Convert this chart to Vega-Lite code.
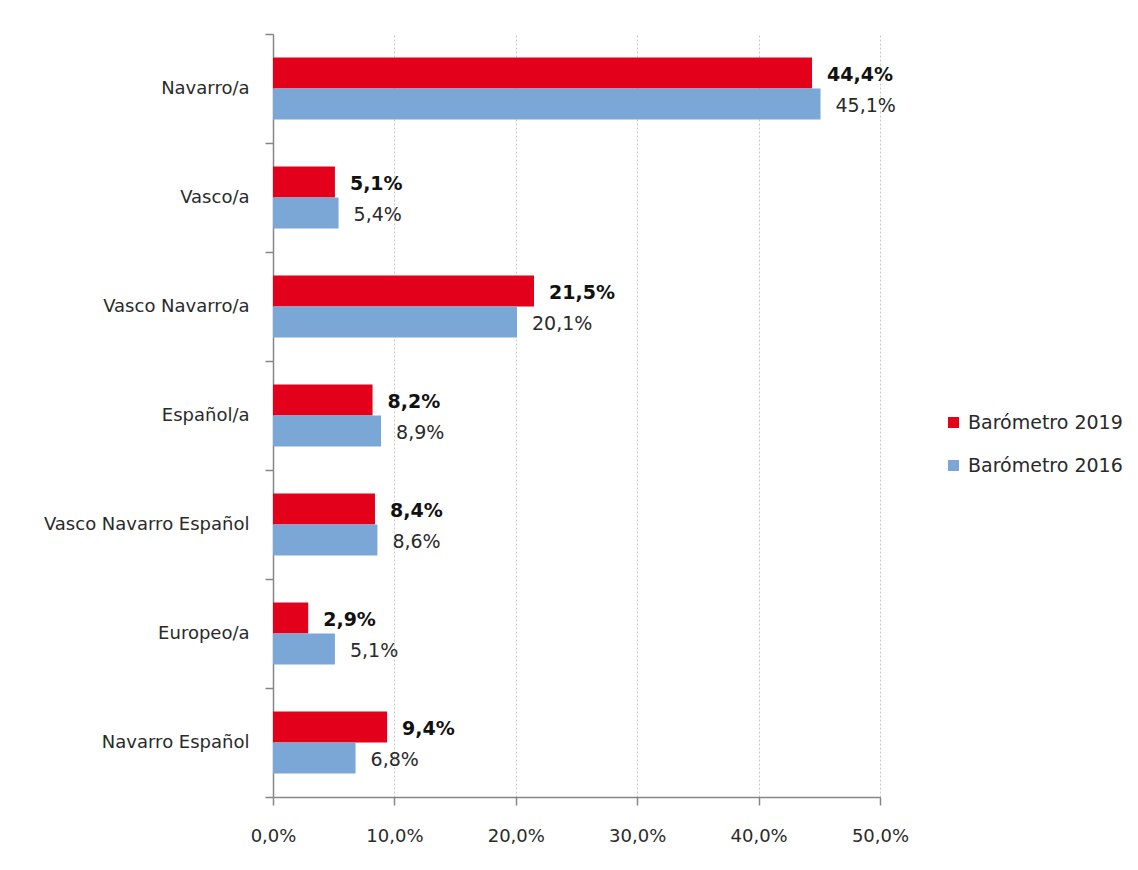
{
  "$schema": "https://vega.github.io/schema/vega-lite/v6.json",
  "autosize": {"type": "none"},
  "width": 607,
  "height": 763,
  "padding": {"left": 273, "top": 34, "right": 258, "bottom": 73},
  "background": "white",
  "config": {
    "locale": {"number": {"decimal": ",", "thousands": ".", "grouping": [3], "currency": ["", " €"]}},
    "font": "DejaVu Sans",
    "view": {"stroke": null}
  },
  "data": {
    "values": [
      {"categoria": "Navarro/a", "serie": "Barómetro 2019", "valor": 0.444},
      {"categoria": "Navarro/a", "serie": "Barómetro 2016", "valor": 0.451},
      {"categoria": "Vasco/a", "serie": "Barómetro 2019", "valor": 0.051},
      {"categoria": "Vasco/a", "serie": "Barómetro 2016", "valor": 0.054},
      {"categoria": "Vasco Navarro/a", "serie": "Barómetro 2019", "valor": 0.215},
      {"categoria": "Vasco Navarro/a", "serie": "Barómetro 2016", "valor": 0.201},
      {"categoria": "Español/a", "serie": "Barómetro 2019", "valor": 0.082},
      {"categoria": "Español/a", "serie": "Barómetro 2016", "valor": 0.089},
      {"categoria": "Vasco Navarro Español", "serie": "Barómetro 2019", "valor": 0.084},
      {"categoria": "Vasco Navarro Español", "serie": "Barómetro 2016", "valor": 0.086},
      {"categoria": "Europeo/a", "serie": "Barómetro 2019", "valor": 0.029},
      {"categoria": "Europeo/a", "serie": "Barómetro 2016", "valor": 0.051},
      {"categoria": "Navarro Español", "serie": "Barómetro 2019", "valor": 0.094},
      {"categoria": "Navarro Español", "serie": "Barómetro 2016", "valor": 0.068}
    ]
  },
  "encoding": {
    "y": {
      "field": "categoria",
      "type": "nominal",
      "sort": null,
      "title": null,
      "scale": {"paddingInner": 0, "paddingOuter": 0},
      "axis": {
        "domainColor": "#868686",
        "domainWidth": 1.5,
        "tickColor": "#868686",
        "tickWidth": 1.5,
        "tickSize": 8,
        "tickBand": "extent",
        "labelPadding": 16,
        "labelFontSize": 18,
        "labelLimit": 400,
        "labelColor": "#2a2a2a",
        "grid": false
      }
    },
    "yOffset": {
      "field": "serie",
      "type": "nominal",
      "sort": ["Barómetro 2019", "Barómetro 2016"],
      "scale": {"paddingInner": 0, "paddingOuter": 0.76}
    },
    "x": {
      "field": "valor",
      "type": "quantitative",
      "title": null,
      "scale": {"domain": [0, 0.5], "nice": false},
      "axis": {
        "format": ".1%",
        "values": [0, 0.1, 0.2, 0.3, 0.4, 0.5],
        "labelFlush": false,
        "domainColor": "#868686",
        "domainWidth": 1.5,
        "tickColor": "#868686",
        "tickWidth": 1.5,
        "tickSize": 8,
        "labelPadding": 22,
        "labelFontSize": 18,
        "labelColor": "#2a2a2a",
        "grid": true,
        "gridColor": "#c8c8c8",
        "gridDash": [2, 2],
        "gridWidth": 1
      }
    }
  },
  "layer": [
    {
      "mark": {"type": "bar"},
      "encoding": {
        "color": {
          "field": "serie",
          "type": "nominal",
          "sort": ["Barómetro 2019", "Barómetro 2016"],
          "scale": {"domain": ["Barómetro 2019", "Barómetro 2016"], "range": ["#e2001a", "#7ba7d7"]},
          "legend": {
            "title": null,
            "orient": "none",
            "legendX": 671,
            "legendY": 379,
            "symbolType": "square",
            "symbolSize": 120,
            "symbolStrokeWidth": 0,
            "labelFontSize": 19,
            "labelLimit": 300,
            "labelColor": "#2a2a2a",
            "rowPadding": 23,
            "labelOffset": 5
          }
        }
      }
    },
    {
      "transform": [{"filter": "datum.serie === 'Barómetro 2019'"}],
      "mark": {"type": "text", "align": "left", "baseline": "middle", "dx": 15, "dy": 2, "fontSize": 19, "fontWeight": "bold", "color": "#111111"},
      "encoding": {"text": {"field": "valor", "type": "quantitative", "format": ".1%"}}
    },
    {
      "transform": [{"filter": "datum.serie === 'Barómetro 2016'"}],
      "mark": {"type": "text", "align": "left", "baseline": "middle", "dx": 15, "dy": 2, "fontSize": 19, "color": "#2a2a2a"},
      "encoding": {"text": {"field": "valor", "type": "quantitative", "format": ".1%"}}
    }
  ]
}
